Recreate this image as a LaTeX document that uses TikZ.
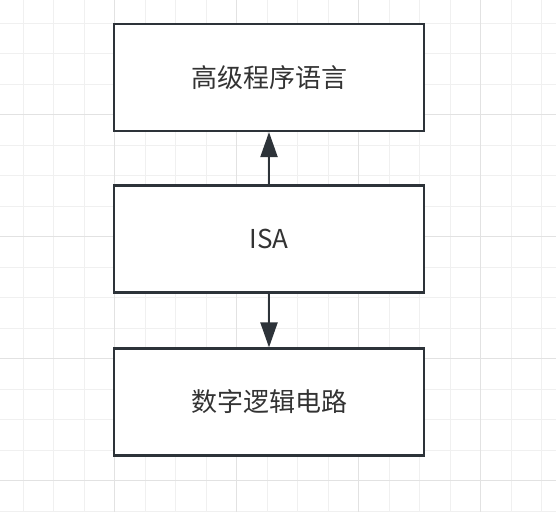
\documentclass[tikz,border=0pt]{standalone}
\usepackage{fontspec}
\setmainfont{Noto Sans CJK SC}
\usetikzlibrary{arrows.meta}
\definecolor{gridminor}{HTML}{F0F0F0}
\definecolor{gridmajor}{HTML}{E2E2E2}
\definecolor{boxline}{HTML}{2D3339}
\definecolor{txt}{HTML}{333333}
\tikzset{
  minorline/.style={draw=gridminor, line width=1.2pt},
  majorline/.style={draw=gridmajor, line width=1.4pt},
  layerbox/.style={draw=boxline, line width=2.2pt, fill=white, minimum width=310pt, minimum height=107pt, inner sep=0pt, text=txt, font=\fontsize{26}{30}\selectfont},
  conn/.style={draw=boxline, line width=2.2pt, -{Triangle[length=25pt,width=17pt]}}
}
\begin{document}
\begin{tikzpicture}[x=1pt,y=-1pt]
\useasboundingbox (0,0) rectangle (556,512);
\fill[white] (0,0) rectangle (556,512);
\foreach \k in {0,...,17} {
  \draw[minorline] ({23.2+30.5*\k},0) -- ({23.2+30.5*\k},512);
  \draw[minorline] (0,{23.2+30.5*\k}) -- (556,{23.2+30.5*\k});
}
\foreach \k in {3,7,11,15} {
  \draw[majorline] ({23.2+30.5*\k},0) -- ({23.2+30.5*\k},512);
  \draw[majorline] (0,{23.2+30.5*\k}) -- (556,{23.2+30.5*\k});
}
\node[layerbox] (hll) at (269,77.5) {高级程序语言};
\node[layerbox] (isa) at (269,239) {ISA};
\node[layerbox] (dlc) at (269,402) {数字逻辑电路};
\draw[conn] (isa.north) -- (hll.south);
\draw[conn] (isa.south) -- (dlc.north);
\end{tikzpicture}
\end{document}
